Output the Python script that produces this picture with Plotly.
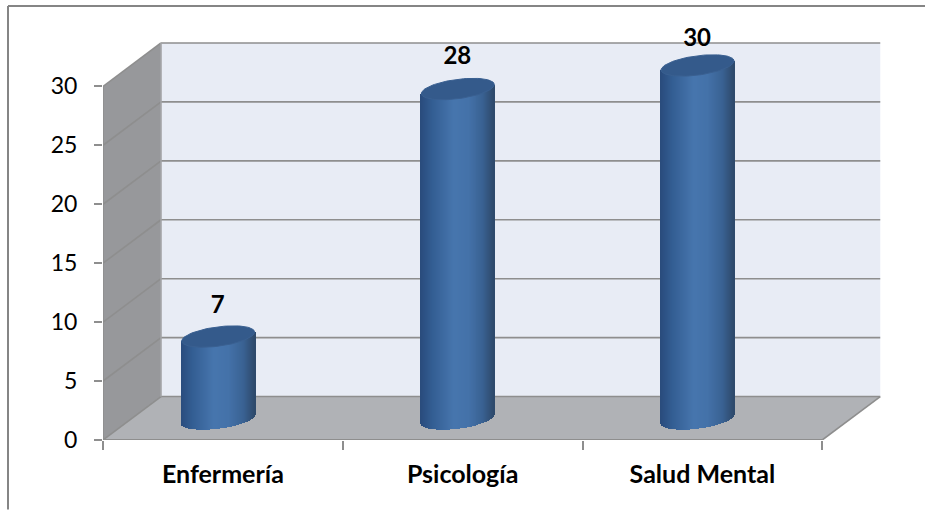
import plotly.graph_objects as go
import numpy as np

# ---- data ----
categories = ["Enfermería", "Psicología", "Salud Mental"]
values = [7, 28, 30]
y_ticks = [0, 5, 10, 15, 20, 25, 30]

# ---- geometry of the pseudo-3D box (in axis units) ----
W, H = 925, 510
L, R, T, B = 103, 43, 20, 69.5
PX_X = 239.75          # pixels per category
PX_Y = 11.8            # pixels per value unit
DX = 58 / PX_X         # depth shift of the back wall
DY = 43.5 / PX_Y
X0, X1 = -0.5, 2.5
BAR_SHIFT = -4.8 / PX_X
BAR_LIFT = 21 / PX_Y
HALF = 36.5 / PX_X
TILT = 4.5 / PX_Y
RY = 9.7 / PX_Y
LINE = "#8e8e8e"

stops_u = [-1.0, -0.92, -0.7, -0.1, 0.3, 0.7, 0.92, 1.0]
stops_r = [0x2a, 0x2c, 0x33, 0x47, 0x44, 0x3a, 0x31, 0x2e]
stops_g = [0x4c, 0x50, 0x5d, 0x76, 0x72, 0x62, 0x50, 0x4a]
stops_b = [0x7c, 0x82, 0x92, 0xae, 0xa9, 0x93, 0x76, 0x6c]


def shade(u):
    return "rgb(%d,%d,%d)" % (
        np.interp(u, stops_u, stops_r),
        np.interp(u, stops_u, stops_g),
        np.interp(u, stops_u, stops_b),
    )


fig = go.Figure()

# cylinders: thin bars with a gradient, clipped by the ellipse of the base
for i, (cat, val) in enumerate(zip(categories, values)):
    u = np.linspace(-1, 1, 75)
    cx = i + BAR_SHIFT
    lower = BAR_LIFT + TILT * u - RY * np.sqrt(1 - u ** 2)
    upper = BAR_LIFT + val + TILT * u
    fig.add_trace(go.Bar(
        x=cx + u * HALF, y=upper - lower, base=lower,
        width=[2 * HALF / 74 * 1.15] * 75,
        marker=dict(color=[shade(a) for a in u], line=dict(width=0)),
        name=cat, showlegend=False, hoverinfo="skip",
    ))
    t = np.linspace(0, 2 * np.pi, 90)
    fig.add_trace(go.Scatter(
        x=cx + HALF * np.cos(t),
        y=BAR_LIFT + val + TILT * np.cos(t) + RY * np.sin(t),
        mode="lines", fill="toself", fillcolor="#345a8b",
        line=dict(color="#3a6091", width=1),
        showlegend=False, hoverinfo="skip",
    ))

# value labels
label_lift = [2.5, 2.65, 2.15]
fig.add_trace(go.Scatter(
    x=[i - 0.022 for i in range(3)],
    y=[v + BAR_LIFT + l for v, l in zip(values, label_lift)],
    text=[str(v) for v in values], mode="text", cliponaxis=False,
    textfont=dict(family="Lato", size=24, color="#000000", weight="bold"),
    showlegend=False, hoverinfo="skip",
))

# invisible trace holding the tick marks of the category axis
fig.add_trace(go.Scatter(x=[X0, X1], y=[0, 0], xaxis="x2", mode="none",
                         showlegend=False, hoverinfo="skip"))

top = max(y_ticks)
shapes = []


def poly(pts, fill):
    path = "M " + " L ".join(f"{x},{y}" for x, y in pts) + " Z"
    shapes.append(dict(type="path", path=path, xref="x", yref="y", fillcolor=fill,
                       line=dict(width=0), layer="below"))


def seg(x0, y0, x1, y1, color=LINE, width=1.6):
    shapes.append(dict(type="line", x0=x0, y0=y0, x1=x1, y1=y1, xref="x", yref="y",
                       line=dict(color=color, width=width), layer="below"))


poly([(X0 + DX, DY), (X1 + DX, DY), (X1 + DX, top + DY), (X0 + DX, top + DY)], "#e8ecf5")
poly([(X0, 0), (X0 + DX, DY), (X0 + DX, top + DY), (X0, top)], "#97989b")
poly([(X0, 0), (X1, 0), (X1 + DX, DY), (X0 + DX, DY)], "#b0b2b6")
for v in y_ticks:
    seg(X0, v, X0 + DX, v + DY)
    seg(X0 + DX, v + DY, X1 + DX, v + DY)
seg(X0, 0, X0, top)
seg(X0 + DX, DY, X0 + DX, top + DY, "#a4a5a8")
seg(X0, 0, X1, 0, width=2)
seg(X1, 0, X1 + DX, DY)

# fragment of frame: only the top and left edges are visible
shapes.append(dict(type="line", xref="paper", yref="paper",
                   x0=(8 - L) / (W - L - R), x1=(W - L) / (W - L - R),
                   y0=(H - B - 6) / (H - T - B), y1=(H - B - 6) / (H - T - B),
                   line=dict(color="#858585", width=2)))
shapes.append(dict(type="line", xref="paper", yref="paper",
                   x0=(8 - L) / (W - L - R), x1=(8 - L) / (W - L - R),
                   y0=(H - B - 6) / (H - T - B), y1=(H - B - H) / (H - T - B),
                   line=dict(color="#858585", width=2)))

x_range = [X0, X1 + (W - L - R) / PX_X - (X1 - X0)]
fig.update_layout(
    width=W, height=H, autosize=False,
    margin=dict(l=L, r=R, t=T, b=B, pad=0),
    paper_bgcolor="white", plot_bgcolor="rgba(0,0,0,0)",
    barmode="overlay", bargap=0, showlegend=False,
    shapes=shapes,
    font=dict(family="Lato", color="#000000"),
    xaxis=dict(range=x_range, tickvals=[0, 1, 2], ticktext=categories,
               showgrid=False, zeroline=False, showline=False, ticks="", ticklen=0,
               tickfont=dict(family="Lato", size=25, weight="bold"),
               ticklabelstandoff=17),
    xaxis2=dict(range=x_range, overlaying="x", side="bottom", tickvals=[-0.5, 0.5, 1.5, 2.5],
                showticklabels=False, ticks="outside", ticklen=9, tickwidth=1.5,
                tickcolor=LINE, showgrid=False, zeroline=False, showline=False),
    yaxis=dict(range=[0, (H - T - B) / PX_Y], tickvals=y_ticks, ticks="outside",
               ticklen=8, tickwidth=1.5, tickcolor=LINE, showgrid=False, zeroline=False,
               showline=False, tickfont=dict(family="Lato", size=23), ticklabelstandoff=12),
)
fig.write_html("out.html", config=dict(displayModeBar=False),
               post_script="document.body.style.margin='0';")
